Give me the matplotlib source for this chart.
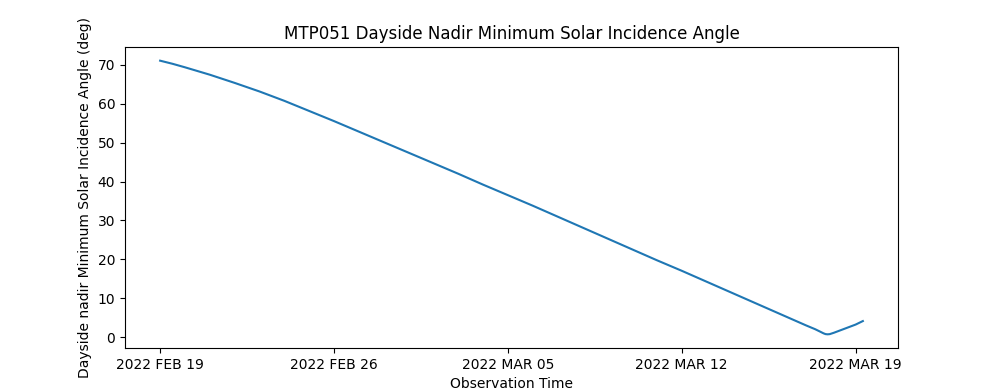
import matplotlib
matplotlib.use("Agg")
import matplotlib.pyplot as plt
import matplotlib.dates as mdates
from matplotlib.ticker import FuncFormatter
import pandas as pd

# Observation times and minimum incidence angle (deg)
obs_times = [
    "2022-02-19 00:00", "2022-02-19 12:00", "2022-02-20 00:00", "2022-02-21 00:00",
    "2022-02-22 00:00", "2022-02-23 00:00", "2022-02-24 00:00", "2022-02-25 00:00",
    "2022-02-26 00:00", "2022-02-27 00:00", "2022-02-28 00:00", "2022-03-01 00:00",
    "2022-03-02 00:00", "2022-03-03 00:00", "2022-03-04 00:00", "2022-03-05 00:00",
    "2022-03-06 00:00", "2022-03-07 00:00", "2022-03-08 00:00", "2022-03-09 00:00",
    "2022-03-10 00:00", "2022-03-11 00:00", "2022-03-12 00:00", "2022-03-13 00:00",
    "2022-03-14 00:00", "2022-03-15 00:00", "2022-03-16 00:00", "2022-03-17 00:00",
    "2022-03-17 09:00", "2022-03-17 14:00", "2022-03-17 17:00", "2022-03-17 19:00",
    "2022-03-17 21:00", "2022-03-17 23:00", "2022-03-18 03:00", "2022-03-18 12:00",
    "2022-03-19 00:00", "2022-03-19 07:00",
]
min_incidence = [
    71.0, 70.2, 69.3, 67.4,
    65.3, 63.1, 60.7, 58.1,
    55.5, 52.8, 50.1, 47.4,
    44.7, 42.0, 39.2, 36.5,
    33.8, 31.0, 28.2, 25.4,
    22.6, 19.8, 17.1, 14.3,
    11.5, 8.7, 5.9, 3.1,
    2.1, 1.45, 1.05, 0.85,
    0.8, 0.85, 1.2, 2.1,
    3.3, 4.2,
]

tick_dates = ["2022-02-19", "2022-02-26", "2022-03-05", "2022-03-12", "2022-03-19"]

times = pd.to_datetime(obs_times)

fig = plt.figure(figsize=(9.98, 3.92), dpi=100)
ax = fig.add_axes([125 / 998, 44 / 392, 773 / 998, 301 / 392])

ax.plot(times, min_incidence, color="#1f77b4")

ax.set_xticks(pd.to_datetime(tick_dates))
ax.xaxis.set_major_formatter(
    FuncFormatter(lambda x, pos: mdates.num2date(x).strftime("%Y %b %d").upper()))

ax.set_title("MTP051 Dayside Nadir Minimum Solar Incidence Angle")
ax.set_xlabel("Observation Time")
ax.set_ylabel("Dayside nadir Minimum Solar Incidence Angle (deg)")

fig.savefig("out.png", dpi=100)
